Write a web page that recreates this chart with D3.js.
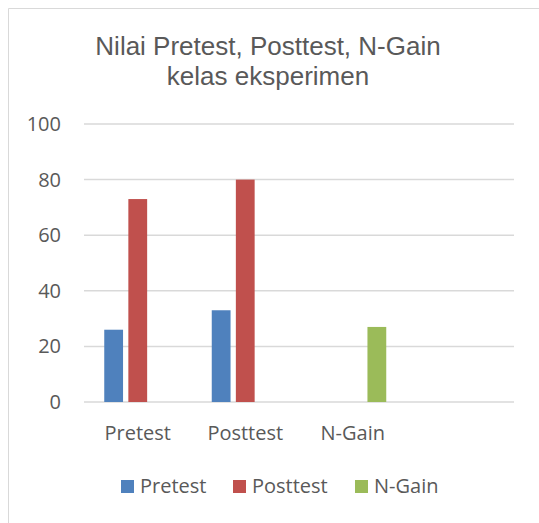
<!DOCTYPE html>
<html>
<head>
<meta charset="utf-8">
<script src="https://cdn.jsdelivr.net/npm/d3@7"></script>
<style>
  body { margin: 0; background: #fff; }
  svg { display: block; }
</style>
</head>
<body>
<svg id="chart" width="539" height="523"></svg>
<script>
// data
var categories = ["Pretest", "Posttest", "N-Gain", ""];
var seriesNames = ["Pretest", "Posttest", "N-Gain"];
var pretestVals = [26, 33, 0, null];
var posttestVals = [73, 80, 0, null];
var ngainVals = [0, 0, 27, null];
var yTicks = [0, 20, 40, 60, 80, 100];
var titleLines = ["Nilai Pretest, Posttest, N-Gain", "kelas eksperimen"];

var colors = ["#4F81BD", "#C0504D", "#9BBB59"];
var seriesVals = [pretestVals, posttestVals, ngainVals];

var svg = d3.select("#chart");

// chart frame (right and bottom edges fall outside the crop)
svg.append("path")
    .attr("d", "M8.5,523 L8.5,8.5 L539,8.5")
    .attr("fill", "none")
    .attr("stroke", "#D9D9D9")
    .attr("stroke-width", 1);

// title
svg.append("text")
    .attr("x", 268)
    .attr("y", 55)
    .attr("text-anchor", "middle")
    .attr("font-family", "Liberation Sans, Arial, sans-serif")
    .attr("font-size", 26)
    .attr("fill", "#595959")
    .selectAll("tspan")
    .data(titleLines)
    .enter().append("tspan")
        .attr("x", 268)
        .attr("dy", function(d, i) { return i === 0 ? 0 : 30; })
        .text(function(d) { return d; });

// plot area (window.top is reserved, so use plotTop)
var plotLeft = 84, plotRight = 514, plotTop = 124, plotBottom = 402;

var x0 = d3.scaleBand().domain(categories).range([plotLeft, plotRight]);
var groupPad = 20.25;
var x1 = d3.scaleBand().domain(seriesNames)
    .range([groupPad, x0.bandwidth() - groupPad])
    .paddingInner(0.22);
var y = d3.scaleLinear().domain([0, 100]).range([plotBottom, plotTop]);

// gridlines
svg.append("g").selectAll("line")
    .data(yTicks)
    .enter().append("line")
        .attr("x1", plotLeft)
        .attr("x2", plotRight)
        .attr("y1", function(d) { return y(d); })
        .attr("y2", function(d) { return y(d); })
        .attr("stroke", "#D9D9D9")
        .attr("stroke-width", 1.5);

// y axis labels
var yAxis = d3.axisLeft(y).tickValues(yTicks).tickSize(0).tickPadding(0);
var yg = svg.append("g")
    .attr("transform", "translate(61,0)")
    .call(yAxis);
yg.select(".domain").remove();
yg.selectAll("text")
    .attr("font-family", "Open Sans, sans-serif")
    .attr("font-size", 20)
    .attr("fill", "#595959");

// bars
var groups = svg.append("g").selectAll("g")
    .data(seriesNames)
    .enter().append("g")
        .attr("fill", function(d, i) { return colors[i]; });

groups.selectAll("rect")
    .data(function(s, si) {
        return categories.map(function(c, ci) {
            return { cat: c, series: s, value: seriesVals[si][ci] };
        }).filter(function(d) { return d.value; });
    })
    .enter().append("rect")
        .attr("x", function(d) { return x0(d.cat) + x1(d.series); })
        .attr("width", x1.bandwidth())
        .attr("y", function(d) { return y(d.value); })
        .attr("height", function(d) { return y(0) - y(d.value); });

// x axis labels
var xAxis = d3.axisBottom(x0).tickSize(0).tickPadding(0);
var xg = svg.append("g")
    .attr("transform", "translate(0,426)")
    .call(xAxis);
xg.select(".domain").remove();
xg.selectAll("text")
    .attr("dy", "0.71em")
    .attr("font-family", "Open Sans, sans-serif")
    .attr("font-size", 20)
    .attr("fill", "#595959");

// legend
var legendX = [121, 233, 355];
var legend = svg.append("g").selectAll("g")
    .data(seriesNames)
    .enter().append("g")
        .attr("transform", function(d, i) { return "translate(" + legendX[i] + ",480)"; });
legend.append("rect")
    .attr("width", 13)
    .attr("height", 13)
    .attr("fill", function(d, i) { return colors[i]; });
legend.append("text")
    .attr("x", 19)
    .attr("y", 13)
    .attr("font-family", "Open Sans, sans-serif")
    .attr("font-size", 20)
    .attr("fill", "#595959")
    .text(function(d) { return d; });
</script>
</body>
</html>
